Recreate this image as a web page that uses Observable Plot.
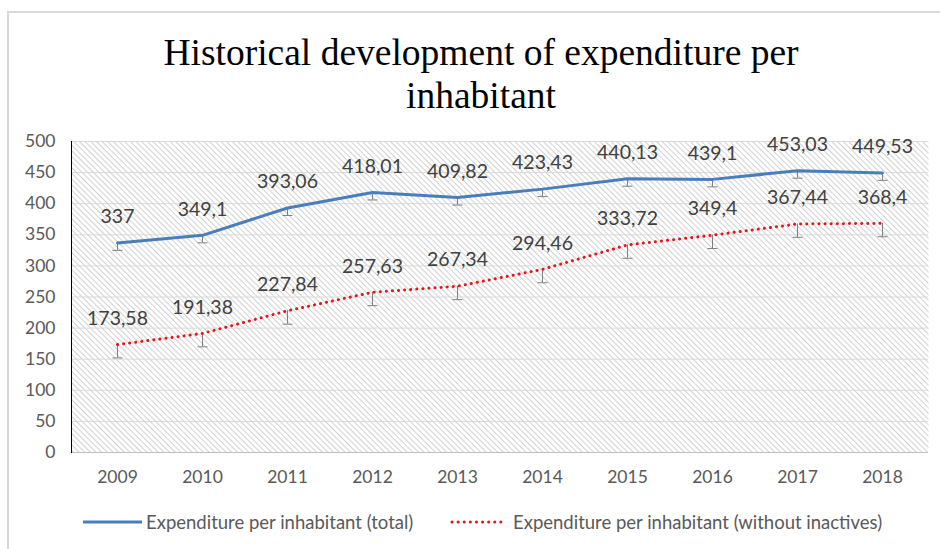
<!DOCTYPE html>
<html>
<head>
<meta charset="utf-8">
<script src="https://cdn.jsdelivr.net/npm/d3@7"></script>
<script src="https://cdn.jsdelivr.net/npm/@observablehq/plot@0.6"></script>
<style>
  body { margin: 0; background: #fff; }
  #wrap { position: relative; width: 940px; height: 549px; overflow: hidden; font-family: Lato, "Liberation Sans", Arial, sans-serif; }
  #border { position: absolute; left: 7px; top: 11px; width: 1000px; height: 1000px; border: 2px solid #d9d9d9; box-sizing: border-box; }
  #title { position: absolute; left: 0; top: 31px; width: 962px; text-align: center; font-family: "Liberation Serif", serif; font-size: 37.5px; line-height: 43px; color: #000; }
  #chart { position: absolute; left: 0; top: 125px; }
  #legend { position: absolute; left: 0; top: 510px; width: 940px; height: 24px; font-size: 18.5px; color: #595959; }
  .lg { position: absolute; top: 0; display: flex; align-items: center; height: 24px; white-space: nowrap; }
  .lg svg { margin-right: 3px; }
</style>
</head>
<body>
<div id="wrap">
  <div id="border"></div>
  <div id="title">Historical development of expenditure per<br>inhabitant</div>
  <div id="chart"></div>
  <div id="legend">
    <div class="lg" style="left:83px"><svg width="60" height="6"><line x1="0" y1="3" x2="59" y2="3" stroke="#4a7ebb" stroke-width="3"/></svg><span>Expenditure per inhabitant (total)</span></div>
    <div class="lg" style="left:450px"><svg width="60" height="6"><line x1="2" y1="3" x2="56" y2="3" stroke="#e8141c" stroke-width="3" stroke-linecap="round" stroke-dasharray="0.1 6"/></svg><span>Expenditure per inhabitant (without inactives)</span></div>
  </div>
</div>
<script>
const years = ["2009","2010","2011","2012","2013","2014","2015","2016","2017","2018"];
const totalValues = [337, 349.1, 393.06, 418.01, 409.82, 423.43, 440.13, 439.1, 453.03, 449.53];
const withoutInactivesValues = [173.58, 191.38, 227.84, 257.63, 267.34, 294.46, 333.72, 349.4, 367.44, 368.4];
// downward error bar sizes
const totalErrors = [12, 12, 12, 12, 12, 12, 12, 12, 12, 12];
const withoutInactivesErrors = [21.5, 21.5, 21.5, 21.5, 21.5, 21.5, 21.5, 21.5, 21.5, 21.5];
const yTicks = [0, 50, 100, 150, 200, 250, 300, 350, 400, 450, 500];

const fmt = v => String(v).replace(".", ",");
const total = years.map((y, i) => ({year: y, value: totalValues[i], low: totalValues[i] - totalErrors[i]}));
const without = years.map((y, i) => ({year: y, value: withoutInactivesValues[i], low: withoutInactivesValues[i] - withoutInactivesErrors[i]}));

const capSymbol = {
  draw(context, size) {
    context.moveTo(-5, 0);
    context.lineTo(5, 0);
  }
};

const BLUE = "#4a7ebb";
const RED = "#e8141c";
const ERR = "#7f7f7f";

const plot = Plot.plot({
  width: 940,
  height: 370,
  marginLeft: 71,
  marginRight: 12,
  marginTop: 16,
  marginBottom: 43,
  style: {fontFamily: "Lato, Liberation Sans, Arial, sans-serif", fontSize: "17px", color: "#595959", background: "transparent", overflow: "visible"},
  x: {type: "point", domain: years, padding: 0.5, label: null},
  y: {domain: [0, 500], ticks: yTicks, label: null},
  marks: [
    Plot.frame({fill: "url(#hatch)", stroke: "none"}),
    Plot.ruleY(yTicks.filter(t => t > 0), {stroke: "#d9d9d9", strokeWidth: 1}),
    Plot.ruleY([0], {stroke: "#bfbfbf", strokeWidth: 1}),
    Plot.frame({anchor: "left", stroke: "#000", strokeWidth: 1}),
    Plot.axisX({ticks: years, tickSize: 0, tickPadding: 18, fontSize: 17.5, fill: "#595959"}),
    Plot.axisY({ticks: yTicks, tickSize: 0, tickPadding: 16, fontSize: 17.5, fill: "#595959"}),
    // error bars
    Plot.ruleX(total, {x: "year", y1: "low", y2: "value", stroke: ERR, strokeWidth: 1}),
    Plot.dot(total, {x: "year", y: "low", symbol: capSymbol, r: 5, stroke: ERR, strokeWidth: 1, fill: "none"}),
    Plot.ruleX(without, {x: "year", y1: "low", y2: "value", stroke: ERR, strokeWidth: 1}),
    Plot.dot(without, {x: "year", y: "low", symbol: capSymbol, r: 5, stroke: ERR, strokeWidth: 1, fill: "none"}),
    // lines
    Plot.line(total, {x: "year", y: "value", stroke: BLUE, strokeWidth: 3, curve: "linear"}),
    Plot.line(without, {x: "year", y: "value", stroke: RED, strokeWidth: 3, strokeDasharray: "0.1 6", strokeLinecap: "round"}),
    // labels
    Plot.text(total, {x: "year", y: "value", text: d => fmt(d.value), dy: -26, fontSize: 19.5, fill: "#404040"}),
    Plot.text(without, {x: "year", y: "value", text: d => fmt(d.value), dy: -26, fontSize: 19.5, fill: "#404040"})
  ]
});

const ns = "http://www.w3.org/2000/svg";
const defs = document.createElementNS(ns, "defs");
defs.innerHTML = '<pattern id="hatch" patternUnits="userSpaceOnUse" width="4" height="4" patternTransform="rotate(-45)"><rect width="4" height="4" fill="#ffffff"/><line x1="0.5" y1="0" x2="0.5" y2="4" stroke="#d2d2d2" stroke-width="1"/></pattern>';
plot.insertBefore(defs, plot.firstChild);
document.getElementById("chart").appendChild(plot);
</script>
</body>
</html>
